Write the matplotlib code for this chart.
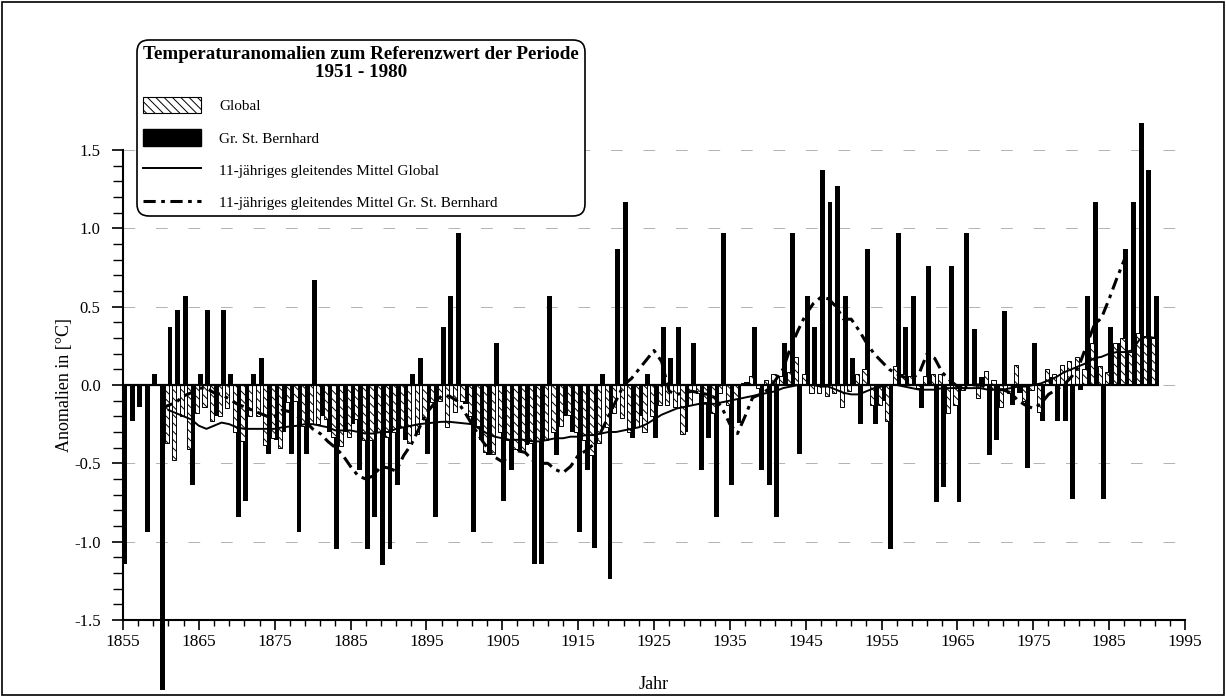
import numpy as np
import matplotlib
matplotlib.use('Agg')
import matplotlib.pyplot as plt
from matplotlib.patches import Patch, Rectangle
from matplotlib.lines import Line2D

plt.rcParams['font.family'] = ['Liberation Serif', 'DejaVu Serif']
plt.rcParams['hatch.linewidth'] = 0.7

# Gr. St. Bernhard, Jahresanomalien 1855-1991
jahre_bern = np.arange(1855, 1992)
bernhard = [
    -1.14, -0.23, -0.14, -0.94, 0.07, -1.95, 0.37, 0.48, 0.57, -0.64,   # 1855-1864
    0.07, 0.48, -0.20, 0.48, 0.07, -0.84, -0.74, 0.07, 0.17, -0.44,     # 1865-1874
    -0.35, -0.30, -0.44, -0.94, -0.44, 0.67, -0.20, -0.30, -1.05, -0.30,  # 1875-1884
    -0.25, -0.54, -1.05, -0.84, -1.15, -1.05, -0.64, -0.35, 0.07, 0.17,   # 1885-1894
    -0.44, -0.84, 0.37, 0.57, 0.97, -0.12, -0.94, -0.35, -0.45, 0.27,    # 1895-1904
    -0.74, -0.54, -0.42, -0.38, -1.14, -1.14, 0.57, -0.45, -0.20, -0.30,  # 1905-1914
    -0.94, -0.54, -1.04, 0.07, -1.24, 0.87, 1.17, -0.34, -0.20, 0.07,    # 1915-1924
    -0.34, 0.37, 0.17, 0.37, -0.30, 0.27, -0.54, -0.34, -0.84, 0.97,     # 1925-1934
    -0.64, -0.24, 0.02, 0.37, -0.54, -0.64, -0.84, 0.27, 0.97, -0.44,    # 1935-1944
    0.57, 0.37, 1.37, 1.17, 1.27, 0.57, 0.17, -0.25, 0.87, -0.25,        # 1945-1954
    -0.10, -1.05, 0.97, 0.37, 0.57, -0.15, 0.76, -0.75, -0.65, 0.76,     # 1955-1964
    -0.75, 0.97, 0.36, 0.05, -0.45, -0.35, 0.47, -0.13, -0.05, -0.53,    # 1965-1974
    0.27, -0.23, 0.05, -0.23, -0.23, -0.73, -0.03, 0.57, 1.17, -0.73,    # 1975-1984
    0.37, 0.27, 0.87, 1.17, 1.67, 1.37, 0.57,                            # 1985-1991
]

# Global, Jahresanomalien 1861-1991
jahre_glob = np.arange(1861, 1992)
global_werte = [
    -0.37, -0.48, -0.20, -0.41, -0.18, -0.14, -0.23, -0.20, -0.15,       # 1861-1869
    -0.30, -0.36, -0.20, -0.20, -0.38, -0.34, -0.40, -0.11, -0.10, -0.26,  # 1870-1879
    -0.25, -0.25, -0.22, -0.33, -0.39, -0.33, -0.22, -0.35, -0.35, -0.30,  # 1880-1889
    -0.33, -0.30, -0.27, -0.37, -0.31, -0.22, -0.11, -0.10, -0.27, -0.17,  # 1890-1899
    -0.10, -0.20, -0.26, -0.43, -0.44, -0.30, -0.35, -0.41, -0.42, -0.37,  # 1900-1909
    -0.36, -0.35, -0.30, -0.26, -0.19, -0.30, -0.35, -0.45, -0.37, -0.27,  # 1910-1919
    -0.18, -0.21, -0.30, -0.27, -0.30, -0.20, -0.13, -0.13, -0.14, -0.31,  # 1920-1929
    -0.13, -0.05, -0.11, -0.18, -0.05, -0.13, -0.09, 0.01, 0.06, -0.02,    # 1930-1939
    0.03, 0.07, 0.06, 0.08, 0.18, 0.07, -0.05, -0.05, -0.07, -0.05,        # 1940-1949
    -0.14, -0.04, 0.07, 0.10, -0.13, -0.13, -0.23, 0.12, 0.07, 0.06,       # 1950-1959
    -0.02, 0.06, 0.07, 0.07, -0.18, -0.13, -0.03, 0.00, -0.08, 0.09,       # 1960-1969
    0.03, -0.14, -0.05, 0.13, -0.10, -0.03, -0.17, 0.10, 0.07, 0.13,       # 1970-1979
    0.15, 0.18, 0.10, 0.27, 0.12, 0.08, 0.27, 0.30, 0.21, 0.33,            # 1980-1989
    0.31, 0.30,                                                            # 1990-1991
]

# 11-jaehriges gleitendes Mittel Global
jahre_mittel_glob = np.arange(1861, 1992)
mittel_glob = [
    -0.16, -0.18, -0.20, -0.22, -0.26, -0.28, -0.26, -0.24, -0.25,       # 1861-1869
    -0.27, -0.28, -0.28, -0.28, -0.28, -0.28, -0.27, -0.265, -0.26, -0.25,  # 1870-1879
    -0.25, -0.26, -0.27, -0.29, -0.29, -0.29, -0.30, -0.31, -0.31, -0.30,  # 1880-1889
    -0.30, -0.28, -0.27, -0.26, -0.25, -0.245, -0.24, -0.235, -0.235, -0.24,  # 1890-1899
    -0.245, -0.25, -0.28, -0.31, -0.33, -0.34, -0.35, -0.35, -0.35, -0.36,  # 1900-1909
    -0.36, -0.35, -0.34, -0.34, -0.33, -0.33, -0.32, -0.32, -0.31, -0.30,  # 1910-1919
    -0.30, -0.29, -0.28, -0.27, -0.25, -0.22, -0.19, -0.17, -0.15, -0.14,  # 1920-1929
    -0.13, -0.12, -0.12, -0.12, -0.11, -0.10, -0.09, -0.08, -0.07, -0.06,  # 1930-1939
    -0.05, -0.04, -0.02, -0.01, 0.00, 0.00, 0.00, -0.01, -0.01, -0.03,     # 1940-1949
    -0.05, -0.06, -0.06, -0.04, -0.02, -0.01, 0.00, 0.00, -0.01, -0.02,    # 1950-1959
    -0.03, -0.03, -0.03, -0.02, -0.02, -0.02, -0.02, -0.02, -0.02, -0.03,  # 1960-1969
    -0.03, -0.03, -0.02, -0.01, -0.01, 0.00, 0.01, 0.03, 0.05, 0.08,       # 1970-1979
    0.10, 0.12, 0.14, 0.17, 0.18, 0.20, 0.21, 0.21, 0.22, 0.29,            # 1980-1989
    0.31, 0.30,                                                            # 1990-1991
]

# 11-jaehriges gleitendes Mittel Gr. St. Bernhard
jahre_mittel_bern = np.arange(1860, 1988)
mittel_bern = [
    -0.15, -0.13, -0.11, -0.07, -0.05, -0.02, -0.02, -0.05, -0.06, -0.09,  # 1860-1869
    -0.12, -0.14, -0.16, -0.18, -0.20, -0.20, -0.16, -0.17, -0.20, -0.23,  # 1870-1879
    -0.28, -0.31, -0.36, -0.40, -0.45, -0.52, -0.58, -0.60, -0.58, -0.52,  # 1880-1889
    -0.53, -0.55, -0.45, -0.38, -0.28, -0.18, -0.12, -0.07, -0.07, -0.10,  # 1890-1899
    -0.17, -0.25, -0.33, -0.40, -0.46, -0.49, -0.45, -0.42, -0.43, -0.48,  # 1900-1909
    -0.50, -0.50, -0.54, -0.56, -0.52, -0.45, -0.42, -0.38, -0.30, -0.20,  # 1910-1919
    -0.10, 0.00, 0.04, 0.10, 0.16, 0.22, 0.15, -0.04, -0.06, -0.05,        # 1920-1929
    -0.04, -0.05, -0.06, -0.08, -0.15, -0.25, -0.31, -0.20, -0.08, -0.06,  # 1930-1939
    -0.03, 0.03, 0.10, 0.24, 0.35, 0.45, 0.52, 0.56, 0.55, 0.50,           # 1940-1949
    0.42, 0.42, 0.35, 0.27, 0.20, 0.15, 0.10, 0.07, 0.05, 0.04,            # 1950-1959
    0.08, 0.20, 0.17, 0.08, 0.03, -0.01, -0.02, 0.00, 0.00, -0.02,         # 1960-1969
    -0.03, -0.03, -0.05, -0.10, -0.13, -0.15, -0.12, -0.06, -0.03, 0.00,   # 1970-1979
    0.05, 0.12, 0.25, 0.38, 0.43, 0.55, 0.68, 0.80,                        # 1980-1987
]

fig = plt.figure(figsize=(12.26, 6.97), dpi=100)
ax = fig.add_axes([0.1003, 0.1105, 0.8663, 0.6743])

# Balken
ax.bar(jahre_bern + 0.2, bernhard, width=0.65, color='black', zorder=2, clip_on=False)
ax.bar(jahre_glob - 0.25, global_werte, width=0.55, facecolor='white', edgecolor='black',
       linewidth=0.7, hatch='\\\\\\\\', zorder=3, clip_on=False)
ax.hlines(0, 1854.8, 1991.6, color='black', linewidth=1.6, zorder=5)

# gleitende Mittel
ax.plot(jahre_mittel_glob, mittel_glob, color='black', linewidth=1.4, zorder=6)
ax.plot(jahre_mittel_bern, mittel_bern, color='black', linewidth=2.2,
        dashes=(4, 1.8, 1.2, 1.8), zorder=6, clip_on=False)

ax.set_xlim(1855, 1995)
ax.set_ylim(-1.5, 1.5)
ax.set_xticks(np.arange(1855, 1996, 10))
ax.set_xticks(np.arange(1855, 1996, 2), minor=True)
ax.set_yticks(np.arange(-1.5, 1.51, 0.5))
ax.set_yticks(np.arange(-1.5, 1.51, 0.1), minor=True)
ax.set_yticklabels(['-1.5', '-1.0', '-0.5', '0.0', '0.5', '1.0', '1.5'])

ax.tick_params(axis='x', which='major', direction='out', length=7, width=1.2, pad=3, labelsize=12.5)
ax.tick_params(axis='x', which='minor', direction='out', length=4, width=1.0)
ax.tick_params(axis='y', which='major', direction='out', length=8, width=1.2, pad=8, labelsize=12)
ax.tick_params(axis='y', which='minor', direction='out', length=7, width=1.0)

for s in ['top', 'right']:
    ax.spines[s].set_visible(False)
ax.spines['left'].set_linewidth(1.5)
ax.spines['bottom'].set_linewidth(1.5)

ax.yaxis.grid(True, which='major', color='0.65', linewidth=0.6, linestyle=(0, (14, 25)))
ax.set_axisbelow(True)

ax.set_xlabel('Jahr', fontsize=13, labelpad=19)
ax.set_ylabel('Anomalien in [°C]', fontsize=13, labelpad=1)

handles = [
    Patch(facecolor='white', edgecolor='black', hatch='\\\\\\\\', linewidth=0.8),
    Patch(facecolor='black', edgecolor='black'),
    Line2D([], [], color='black', linewidth=1.4),
    Line2D([], [], color='black', linewidth=2.2, dashes=(4, 1.8, 1.2, 1.8)),
]
labels = ['Global', 'Gr. St. Bernhard', '11-jähriges gleitendes Mittel Global',
          '11-jähriges gleitendes Mittel Gr. St. Bernhard']
leg = ax.legend(handles, labels, title='Temperaturanomalien zum Referenzwert der Periode\n1951 - 1980',
                loc='upper left', bbox_to_anchor=(0.0132, 1.234), borderaxespad=0,
                fontsize=11, title_fontproperties={'weight': 'bold', 'size': 13.8},
                handlelength=3.8, handleheight=1.27, handletextpad=1.2,
                labelspacing=1.05, borderpad=0.4, fancybox=True, alignment='left',
                edgecolor='black', framealpha=1)
leg.get_frame().set_linewidth(1.2)
leg.get_frame().set_boxstyle('round', pad=0, rounding_size=0.8)
leg.get_title().set_multialignment('center')
leg.get_title().set_linespacing(1.05)
leg.set_zorder(10)

fig.patches.append(Rectangle((0.002, 0.003), 0.996, 0.994, transform=fig.transFigure,
                             fill=False, edgecolor='black', linewidth=1.2))

fig.savefig('out.png', dpi=100)
